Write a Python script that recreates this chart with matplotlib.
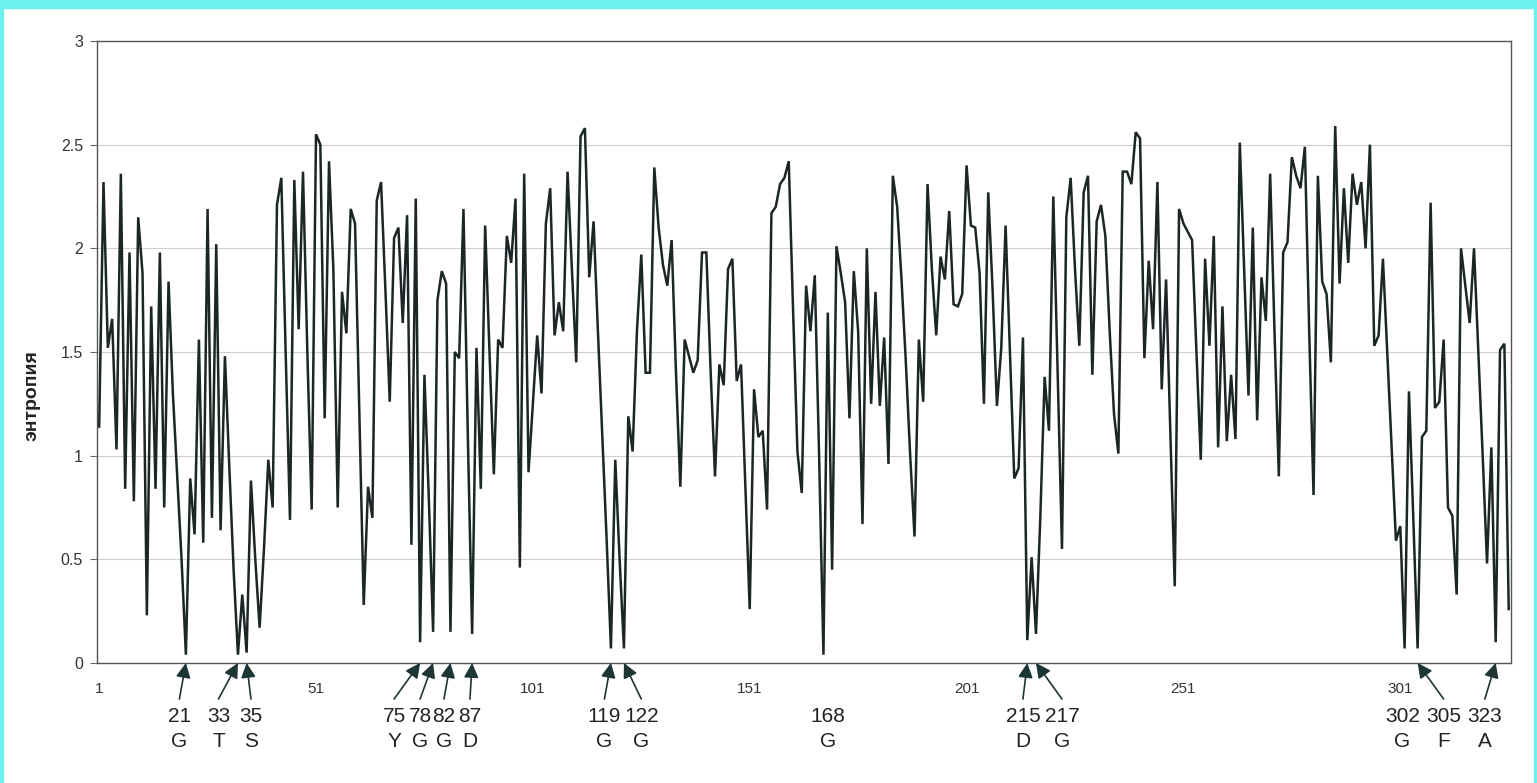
import matplotlib
matplotlib.use('Agg')
import matplotlib.pyplot as plt
import matplotlib.patches as mpatches
import numpy as np

plt.rcParams['font.family'] = ['Liberation Sans', 'DejaVu Sans']

# Entropy per alignment position
entropy = [
    1.14, 2.32, 1.52, 1.66, 1.03, 2.36, 0.84, 1.98, 0.78, 2.15,
    1.88, 0.23, 1.72, 0.84, 1.98, 0.75, 1.84, 1.30, 0.90, 0.50,
    0.04, 0.89, 0.62, 1.56, 0.58, 2.19, 0.70, 2.02, 0.64, 1.48,
    0.95, 0.45, 0.04, 0.33, 0.05, 0.88, 0.50, 0.17, 0.55, 0.98,
    0.75, 2.21, 2.34, 1.50, 0.69, 2.33, 1.61, 2.37, 1.50, 0.74,
    2.55, 2.50, 1.18, 2.42, 1.90, 0.75, 1.79, 1.59, 2.19, 2.12,
    1.20, 0.28, 0.85, 0.70, 2.23, 2.32, 1.80, 1.26, 2.05, 2.10,
    1.64, 2.16, 0.57, 2.24, 0.10, 1.39, 0.80, 0.15, 1.75, 1.89,
    1.83, 0.15, 1.50, 1.47, 2.19, 1.10, 0.14, 1.52, 0.84, 2.11,
    1.50, 0.91, 1.56, 1.52, 2.06, 1.93, 2.24, 0.46, 2.36, 0.92,
    1.25, 1.58, 1.30, 2.12, 2.29, 1.58, 1.74, 1.60, 2.37, 1.90,
    1.45, 2.54, 2.58, 1.86, 2.13, 1.60, 1.10, 0.60, 0.07, 0.98,
    0.50, 0.07, 1.19, 1.02, 1.60, 1.97, 1.40, 1.40, 2.39, 2.10,
    1.92, 1.82, 2.04, 1.40, 0.85, 1.56, 1.48, 1.40, 1.46, 1.98,
    1.98, 1.40, 0.90, 1.44, 1.34, 1.90, 1.95, 1.36, 1.44, 0.85,
    0.26, 1.32, 1.09, 1.12, 0.74, 2.17, 2.20, 2.31, 2.34, 2.42,
    1.70, 1.02, 0.82, 1.82, 1.60, 1.87, 1.00, 0.04, 1.69, 0.45,
    2.01, 1.88, 1.74, 1.18, 1.89, 1.60, 0.67, 2.00, 1.25, 1.79,
    1.24, 1.57, 0.96, 2.35, 2.20, 1.85, 1.45, 1.00, 0.61, 1.56,
    1.26, 2.31, 1.90, 1.58, 1.96, 1.85, 2.18, 1.73, 1.72, 1.78,
    2.40, 2.11, 2.10, 1.88, 1.25, 2.27, 1.80, 1.24, 1.52, 2.11,
    1.50, 0.89, 0.94, 1.57, 0.11, 0.51, 0.14, 0.70, 1.38, 1.12,
    2.25, 1.40, 0.55, 2.15, 2.34, 1.90, 1.53, 2.27, 2.35, 1.39,
    2.13, 2.21, 2.06, 1.60, 1.20, 1.01, 2.37, 2.37, 2.31, 2.56,
    2.53, 1.47, 1.94, 1.61, 2.32, 1.32, 1.85, 1.10, 0.37, 2.19,
    2.12, 2.08, 2.04, 1.50, 0.98, 1.95, 1.53, 2.06, 1.04, 1.72,
    1.07, 1.39, 1.08, 2.51, 1.90, 1.29, 2.10, 1.17, 1.86, 1.65,
    2.36, 1.60, 0.90, 1.98, 2.03, 2.44, 2.35, 2.29, 2.49, 1.60,
    0.81, 2.35, 1.84, 1.78, 1.45, 2.59, 1.83, 2.29, 1.93, 2.36,
    2.21, 2.32, 2.00, 2.50, 1.53, 1.58, 1.95, 1.50, 1.05, 0.59,
    0.66, 0.07, 1.31, 0.70, 0.07, 1.09, 1.12, 2.22, 1.23, 1.26,
    1.56, 0.75, 0.71, 0.33, 2.00, 1.82, 1.64, 2.00, 1.50, 1.00,
    0.48, 1.04, 0.10, 1.51, 1.54, 0.26,
]
positions = np.arange(1, len(entropy) + 1)

tick_positions = [1, 51, 101, 151, 201, 251, 301]
y_ticks = [0, 0.5, 1, 1.5, 2, 2.5, 3]
y_tick_labels = ['0', '0.5', '1', '1.5', '2', '2.5', '3']

# Marked conserved sites
sites = [21, 33, 35, 75, 78, 82, 87, 119, 122, 168, 215, 217, 302, 305, 323]
residues = ['G', 'T', 'S', 'Y', 'G', 'G', 'D', 'G', 'G', 'G', 'D', 'G', 'G', 'F', 'A']
has_arrow = [True, True, True, True, True, True, True, True, True, False,
             True, True, False, True, True]
# where each label sits along x (in position units)
label_x = [19.5, 28.5, 36.0, 69.0, 75.0, 80.5, 86.5, 117.5, 126.0, 169.0,
           214.0, 223.0, 301.5, 311.0, 320.5]

fig = plt.figure(figsize=(15.37, 7.83), dpi=100)
ax = fig.add_axes([0.0631, 0.1533, 0.9199, 0.7943])

ax.plot(positions, entropy, color='#1c2626', lw=1.8, solid_joinstyle='miter')

ax.set_xlim(0.5, len(entropy) + 0.5)
ax.set_ylim(0, 3)
ax.set_yticks(y_ticks)
ax.set_yticklabels(y_tick_labels, fontsize=11.5, color='#333333')
ax.set_xticks(tick_positions)
ax.set_xticklabels([str(t) for t in tick_positions], fontsize=11, color='#333333')
ax.tick_params(axis='x', length=0, pad=14)
ax.tick_params(axis='y', length=5, width=0.8, color='#666666', pad=5)
ax.grid(axis='y', color='#cfcfcf', lw=0.8)
ax.set_axisbelow(True)
for s in ax.spines.values():
    s.set_color('#555555')
    s.set_linewidth(1.0)

ax.set_ylabel('энтропия', fontsize=14, fontweight='bold', color='#222222')
ax.yaxis.set_label_coords(-0.040, 0.43)

for site, res, arrow, lx in zip(sites, residues, has_arrow, label_x):
    if arrow:
        ax.annotate('', xy=(site, 0.0), xytext=(lx, -0.058),
                    xycoords=('data', 'axes fraction'),
                    textcoords=('data', 'axes fraction'),
                    arrowprops=dict(arrowstyle='-|>', color='#1d3535', lw=1.2,
                                    mutation_scale=22, shrinkA=0, shrinkB=0),
                    annotation_clip=False)
    ax.text(lx, -0.086, str(site), transform=ax.get_xaxis_transform(),
            ha='center', va='center', fontsize=15, color='#222222')
    ax.text(lx, -0.126, res, transform=ax.get_xaxis_transform(),
            ha='center', va='center', fontsize=15, color='#222222')

# cyan scan border
fig.patches.append(mpatches.Rectangle((0, 0.99), 1, 0.01, transform=fig.transFigure,
                                      color='#6ff0f0', zorder=0))
fig.patches.append(mpatches.Rectangle((0, 0), 0.002, 1, transform=fig.transFigure,
                                      color='#6ff0f0', zorder=0))
fig.patches.append(mpatches.Rectangle((0.998, 0), 0.002, 1, transform=fig.transFigure,
                                      color='#6ff0f0', zorder=0))

plt.savefig('out.png', dpi=100)
plt.close()
